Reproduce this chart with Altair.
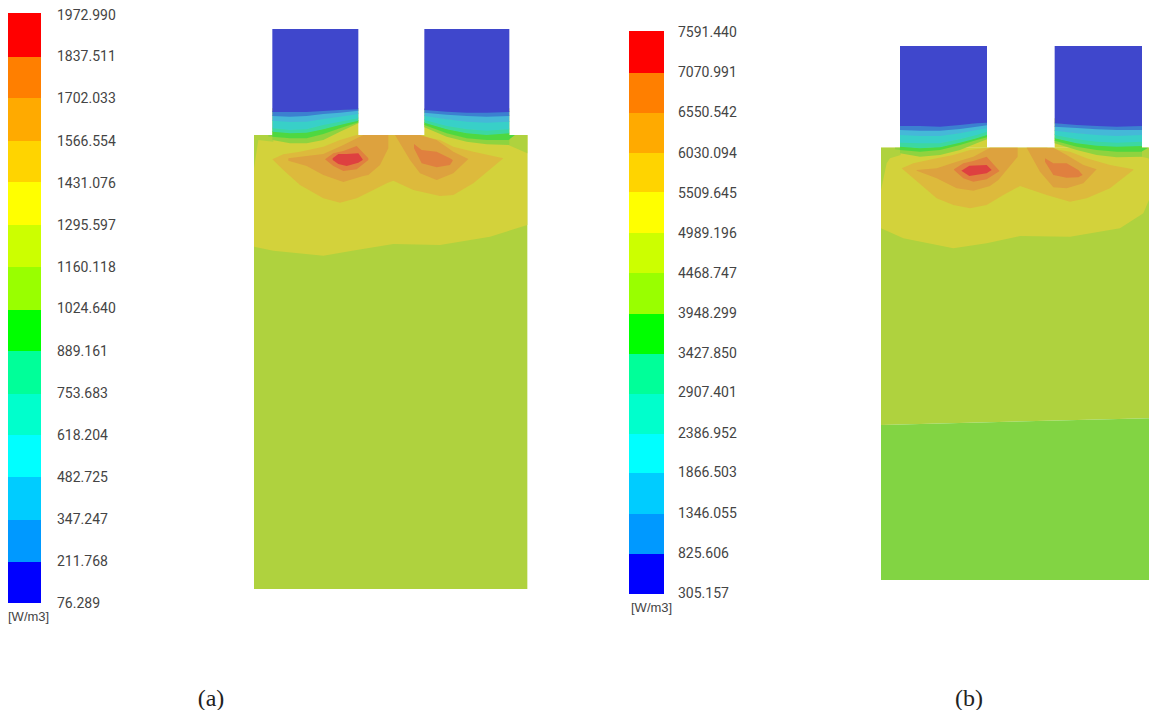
import altair as alt
import pandas as pd

# ---------- legends ----------
LEGEND_COLORS = ["#FF0000", "#FF7F00", "#FFAA00", "#FFD400", "#FFFF00", "#CCFF00", "#99FF00",
                 "#00FF00", "#00FF99", "#00FFCC", "#00FFFF", "#00CCFF", "#0099FF", "#0000FF"]
A_EDGES = [13, 57, 98, 141, 182, 225, 267, 310, 351, 394, 435, 477, 520, 562, 603]
B_EDGES = [31, 73, 113, 153, 192, 233, 273, 314, 354, 394, 434, 473, 514, 554, 594]
A_LABELS = ["1972.990", "1837.511", "1702.033", "1566.554", "1431.076", "1295.597", "1160.118", "1024.640",
            "889.161", "753.683", "618.204", "482.725", "347.247", "211.768", "76.289"]
B_LABELS = ["7591.440", "7070.991", "6550.542", "6030.094", "5509.645", "4989.196", "4468.747", "3948.299",
            "3427.850", "2907.401", "2386.952", "1866.503", "1346.055", "825.606", "305.157"]
A_LABEL_Y = [16, 57, 99, 142, 184, 226, 268, 309, 352, 394, 436, 478, 520, 562, 604]
B_LABEL_Y = [33, 73, 113, 154, 194, 234, 274, 314, 354, 393, 434, 473, 514, 554, 594]

# ---------- field colours ----------
BODY_GREEN = "#82D443"; LIME = "#AFD23E"; YELLOW = "#D3D23B"; GOLD = "#DDBA3C"
TAN = "#DDA23E"; ORANGE = "#E0803F"; RED = "#DE4040"
STRIP_COLORS = ["#8FD33F", "#4ED840", "#3CD8A0", "#38D0C8", "#45B8D8", "#3C80D0", "#3F47CC"]

# ---------- panel (a): contour outlines as (x, top, bottom) ----------
a_body = [(42, 135, 1497), (862, 135, 1497)]
a_yellow = [(42, 135, 470), (100, 135, 482), (250, 135, 497), (350, 135, 480), (460, 135, 462),
            (600, 135, 465), (750, 135, 440), (862, 135, 405)]
a_gold = [(97, 208, 208), (130, 193, 240), (180, 185, 285), (250, 170, 325), (300, 150, 338), (350, 135, 325),
          (400, 135, 300), (440, 135, 280), (460, 135, 272), (520, 135, 300), (600, 150, 318), (640, 170, 315),
          (700, 185, 280), (790, 205, 205)]
a_tan_l = [(145, 205, 212), (200, 198, 228), (250, 192, 255), (310, 165, 276), (370, 135, 258), (385, 135, 255),
           (420, 135, 225), (445, 135, 175)]
a_tan_r = [(465, 135, 135), (510, 135, 210), (540, 135, 250), (590, 150, 270), (640, 185, 250), (685, 207, 207)]
a_orange_l = [(255, 208, 208), (280, 190, 228), (310, 183, 243), (350, 168, 238), (385, 205, 210)]
a_red = [(278, 205, 210), (295, 192, 222), (320, 192, 228), (355, 190, 218), (368, 208, 210)]
a_orange_r = [(522, 162, 175), (545, 180, 220), (590, 185, 232), (630, 205, 225), (638, 210, 212)]
a_shoulder_l = [(42, 135, 235), (55, 135, 150), (100, 135, 155)]
a_shoulder_r = [(805, 135, 165), (862, 135, 190)]
a_green_l = [(85, 135, 140), (100, 135, 140)]
a_green_r = [(805, 135, 150), (825, 135, 135)]
A_TOP = -183; A_BASE = 135
A_LEFT_X = [97, 150, 200, 250, 300, 355]
A_RIGHT_X = [553, 620, 680, 740, 808]
A_LEFT_STRIPS = [[150, 160, 160, 150, 125, 100], [140, 145, 145, 132, 115, 97], [125, 130, 128, 118, 105, 92],
                 [115, 120, 118, 105, 95, 85], [92, 96, 95, 87, 80, 72], [78, 80, 78, 72, 68, 62],
                 [66, 66, 66, 63, 60, 58]]
A_RIGHT_STRIPS = [[112, 140, 155, 163, 165], [105, 130, 145, 150, 150], [98, 118, 130, 135, 130],
                  [90, 108, 118, 122, 118], [78, 88, 95, 98, 95], [68, 74, 78, 80, 78], [60, 65, 68, 68, 66]]

# ---------- panel (b) ----------
b_body = [(33, 143, 975), (861, 143, 954)]
b_green = [(33, 975, 1440), (861, 954, 1440)]
b_yellow = [(33, 143, 385), (100, 143, 415), (250, 143, 445), (350, 143, 430), (450, 143, 408), (600, 143, 410),
            (750, 143, 385), (820, 143, 340), (850, 143, 270)]
b_gold = [(95, 205, 205), (130, 190, 235), (200, 175, 295), (250, 165, 315), (300, 150, 325), (350, 143, 315),
          (400, 143, 285), (450, 143, 258), (530, 143, 285), (600, 155, 305), (650, 175, 295), (720, 195, 265),
          (790, 208, 210)]
b_tan_l = [(140, 210, 212), (200, 205, 235), (260, 185, 265), (310, 170, 272), (360, 143, 258), (385, 143, 240),
           (443, 143, 170)]
b_tan_r = [(470, 143, 143), (510, 143, 215), (550, 143, 262), (590, 165, 265), (640, 195, 250), (680, 208, 208)]
b_orange_l = [(252, 208, 210), (280, 190, 235), (310, 183, 245), (350, 170, 238), (388, 212, 214)]
b_red = [(274, 212, 212), (298, 197, 228), (350, 195, 220), (365, 210, 210)]
b_orange_r = [(525, 175, 185), (550, 190, 225), (590, 190, 233), (625, 210, 232), (638, 225, 225)]
b_shoulder_l = [(33, 143, 270), (50, 143, 190), (60, 143, 175), (92, 143, 165)]
b_shoulder_r = [(814, 143, 170), (835, 143, 175), (850, 143, 200)]
b_green_l = [(75, 143, 148), (92, 143, 150)]
b_green_r = [(814, 143, 155), (835, 143, 143)]
B_TOP = -162; B_BASE = 143
B_LEFT_X = [90, 150, 210, 270, 320, 351]
B_RIGHT_X = [554, 620, 680, 740, 816]
B_LEFT_STRIPS = [[160, 170, 165, 150, 130, 118], [150, 155, 150, 135, 120, 112], [140, 145, 142, 128, 115, 105],
                 [128, 130, 130, 118, 105, 95], [105, 108, 108, 100, 90, 85], [90, 92, 92, 87, 80, 76],
                 [78, 78, 80, 75, 70, 68]]
B_RIGHT_STRIPS = [[130, 150, 165, 172, 170], [122, 140, 150, 155, 155], [115, 130, 137, 140, 138],
                  [105, 118, 125, 128, 125], [92, 100, 105, 108, 105], [80, 84, 88, 90, 90], [70, 75, 78, 80, 78]]

xs = alt.Scale(domain=[8, 1149], range=[0, 1141], nice=False, zero=False)
ys = alt.Scale(domain=[8, 710], range=[0, 702], nice=False, zero=False)
X = alt.X("x:Q", scale=xs, axis=None)
Y = alt.Y("y:Q", scale=ys, axis=None, stack=None)


def place(rows, ox, oy):
    return pd.DataFrame([{"x": ox + a / 3, "y": oy + t / 3, "y2": oy + b / 3} for a, t, b in rows])


def shape(rows, color, ox, oy):
    return alt.Chart(place(rows, ox, oy)).mark_area(color=color, interpolate="linear", line=False, opacity=1, clip=True).encode(
        x=X, y=Y, y2="y2:Q")


def strip_rows(xvals, strips, i, top):
    upper = strips[i + 1] if i + 1 < len(strips) else None
    return [(x, top if upper is None else upper[k] - 2, strips[i][k]) for k, x in enumerate(xvals)]


def panel(ox, oy, base, top, left_x, right_x, left_strips, right_strips, shapes, shoulders):
    out = [shape(r, c, ox, oy) for r, c in shapes]
    # warm end of the electrodes, below the coldest bands
    warm_top = 55
    out.append(shape([(left_x[0], warm_top, base), (left_x[-1], warm_top, base)], YELLOW, ox, oy))
    out.append(shape([(right_x[0], warm_top, base), (right_x[-1], warm_top, base)], YELLOW, ox, oy))
    out += [shape(r, c, ox, oy) for r, c in shoulders]
    for i, c in enumerate(STRIP_COLORS):
        out.append(shape(strip_rows(left_x, left_strips, i, top), c, ox, oy))
        out.append(shape(strip_rows(right_x, right_strips, i, top), c, ox, oy))
    return out


layers = []
layers += panel(240, 90, A_BASE, A_TOP, A_LEFT_X, A_RIGHT_X, A_LEFT_STRIPS, A_RIGHT_STRIPS,
                [(a_body, LIME), (a_yellow, YELLOW), (a_gold, GOLD), (a_tan_l, TAN), (a_tan_r, TAN),
                 (a_orange_l, ORANGE), (a_orange_r, ORANGE), (a_red, RED)],
                [(a_shoulder_l, LIME), (a_shoulder_r, LIME), (a_green_l, "#8FD33F"), (a_green_r, "#4ED840")])
layers += panel(870, 100, B_BASE, B_TOP, B_LEFT_X, B_RIGHT_X, B_LEFT_STRIPS, B_RIGHT_STRIPS,
                [(b_body, LIME), (b_green, BODY_GREEN), (b_yellow, YELLOW), (b_gold, GOLD), (b_tan_l, TAN),
                 (b_tan_r, TAN), (b_orange_l, ORANGE), (b_orange_r, ORANGE), (b_red, RED)],
                [(b_shoulder_l, LIME), (b_shoulder_r, LIME), (b_green_l, "#8FD33F"), (b_green_r, "#4ED840")])

# legend colour bars
seg = []
for edges, x0, x1 in [(A_EDGES, 8, 41), (B_EDGES, 629, 664)]:
    for i, c in enumerate(LEGEND_COLORS):
        seg.append({"x": x0, "x2": x1, "y": edges[i], "y2": edges[i + 1], "c": c})
layers.append(alt.Chart(pd.DataFrame(seg)).mark_rect().encode(
    x=X, x2="x2:Q", y=Y, y2="y2:Q", color=alt.Color("c:N", scale=None)))

# legend labels
lab = pd.DataFrame(
    [{"x": 57, "y": y, "t": t} for y, t in zip(A_LABEL_Y, A_LABELS)] +
    [{"x": 678, "y": y, "t": t} for y, t in zip(B_LABEL_Y, B_LABELS)])
layers.append(alt.Chart(lab).mark_text(align="left", baseline="middle", font="Roboto", fontSize=14,
                                       color="#444444").encode(x=X, y=Y, text="t:N"))

units = pd.DataFrame([{"x": 8, "y": 617, "t": "[W/m3]"}, {"x": 631, "y": 608, "t": "[W/m3]"}])
layers.append(alt.Chart(units).mark_text(align="left", baseline="middle", font="Liberation Sans", fontSize=13,
                                         color="#444444").encode(x=X, y=Y, text="t:N"))

caps = pd.DataFrame([{"x": 211, "y": 699, "t": "(a)"}, {"x": 969, "y": 699, "t": "(b)"}])
layers.append(alt.Chart(caps).mark_text(align="center", baseline="middle", font="Liberation Serif", fontSize=24,
                                        color="#222222").encode(x=X, y=Y, text="t:N"))

chart = alt.layer(*layers).properties(
    width=1141, height=702, padding=0, background="white",
    autosize=alt.AutoSizeParams(type="none")
).configure_view(stroke=None)

chart.save("out.html", embed_options={"renderer": "svg", "actions": False})
